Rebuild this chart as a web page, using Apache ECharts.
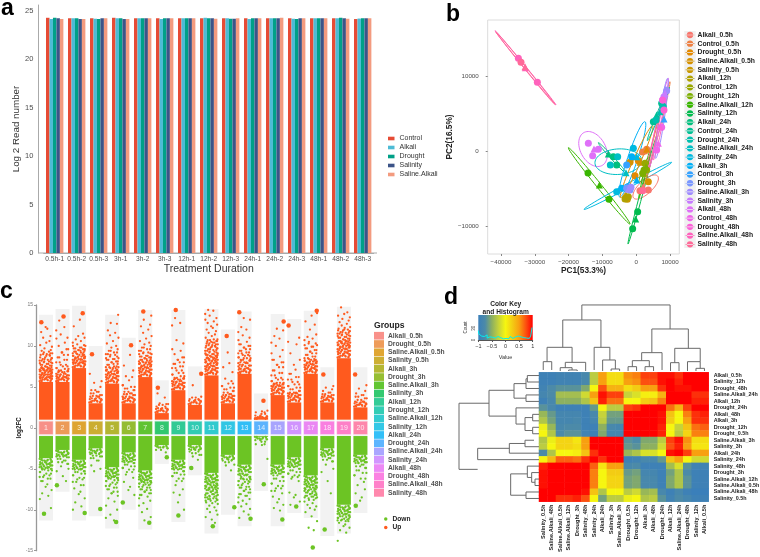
<!DOCTYPE html>
<html><head><meta charset="utf-8">
<style>html,body{margin:0;padding:0;background:#fff}#c{width:760px;height:557px}#c canvas{filter:blur(0.45px)}</style>
<script src="https://cdn.jsdelivr.net/npm/echarts@6/dist/echarts.min.js"></script>
</head><body><div id="c"></div>
<script>
// ---------- panel a ----------
const readSamples=['0.5h-1','0.5h-2','0.5h-3','3h-1','3h-2','3h-3','12h-1','12h-2','12h-3','24h-1','24h-2','24h-3','48h-1','48h-2','48h-3'];
const readControl=[24.3,24.25,24.25,24.3,24.25,24.25,24.25,24.25,24.25,24.25,24.25,24.25,24.25,24.25,24.17];
const readAlkali=[24.17,24.25,24.2,24.25,24.25,24.17,24.25,24.3,24.25,24.17,24.25,24.2,24.25,24.25,24.22];
const readDrought=[24.3,24.25,24.17,24.25,24.25,24.25,24.25,24.25,24.2,24.25,24.25,24.17,24.25,24.3,24.25];
const readSalinity=[24.25,24.17,24.25,24.17,24.25,24.25,24.25,24.25,24.2,24.25,24.25,24.25,24.25,24.25,24.25];
const readSaline=[24.17,24.17,24.25,24.17,24.25,24.25,24.25,24.2,24.25,24.25,24.3,24.25,24.25,24.2,24.25];
const readNames=['Control','Alkali','Drought','Salinity','Saline.Alkali'];
const readColors=['#E64B35','#4DBBD5','#00A087','#3C5488','#F39B7F'];

// ---------- panel b ----------
const pcaNames=['Alkali_0.5h','Control_0.5h','Drought_0.5h','Saline.Alkali_0.5h','Salinity_0.5h','Alkali_12h','Control_12h','Drought_12h','Saline.Alkali_12h','Salinity_12h','Alkali_24h','Control_24h','Drought_24h','Saline.Alkali_24h','Salinity_24h','Alkali_3h','Control_3h','Drought_3h','Saline.Alkali_3h','Salinity_3h','Alkali_48h','Control_48h','Drought_48h','Saline.Alkali_48h','Salinity_48h'];
const pcaColors=['#F8766D','#EE8043','#E38900','#D69100','#C99800','#B0A100','#99A800','#7CAE00','#39B600','#00BB4E','#00BF7D','#00C094','#00BFAE','#00BFC4','#00BAE0','#00B0F6','#35A2FF','#7997FF','#9F8CFF','#C77CFF','#DF70F8','#F066EA','#FB61D7','#FF62BC','#FF6A98'];
// [PC1, PC2, triangle?]
const pcaPoints=[
[[1120,-5220],[3590,-5130],[2110,-4690,1]],
[[1910,-90],[3100,270],[2500,90,1]],
[[-350,-3230],[630,-1240],[3100,270,1]],
[[-1830,-1460],[3590,-4030],[1120,-1460,1]],
[[-3020,-6110],[-2620,-6370],[-2820,-6020,1]],
[[-3310,-6330],[-2330,-6020],[-3020,-5800,1]],
[[2600,-1590],[3100,-2480],[2310,-2920,1]],
[[2310,-2480],[1910,-2920],[2900,-2040,1]],
[[-14260,-2880],[-10900,-4470,1],[-8050,-6370]],
[[430,-8010],[-160,-8980,1],[-1050,-10270]],
[[-8240,-350,1],[-6760,-710],[-5780,-1810]],
[[5070,3940],[6050,4820,1],[7530,6370]],
[[5860,4160],[7040,5270,1],[8030,5930]],
[[-7650,-1810],[-5480,-710],[-3020,-2830,1]],
[[-850,400],[-5780,-5350],[140,-710,1]],
[[-1340,-710],[-4300,-4910],[140,-3810,1]],
[[-2820,-1810],[-2330,-4690],[8220,4290,1]],
[[-2820,-4910],[-1830,-5130],[8810,8230,1]],
[[-2330,-5040,1],[-1540,-4780],[9010,8050]],
[[8220,7260],[7830,6810],[8520,7700,1]],
[[-14160,1060],[-11200,270],[-12880,-580],[-12480,310,1]],
[[7530,3190],[6550,1060,1],[6050,180]],
[[7830,6810],[7040,3270,1],[8220,5490]],
[[-34860,12350],[-32790,11110,1],[-29240,9160]],
[[-34080,11810],[-32890,11240,1],[1910,-5220]]
];
// [centre PC1, centre PC2, semi-axis u (x,y), conjugate semi-axis v (x,y), colour index]
const pcaEllipses=[
[-32750,11085,9020,-4934,227,84,23],
[-32800,11050,8700,-4800,180,120,24],
[-12780,310,2564,-2212,3352,708,20],
[-10955,-4580,9120,-5067,542,195,8],
[-7060,-885,4140,-2035,296,133,10],
[-5285,-1372,6900,265,493,-1681,13],
[-2475,-4580,12966,3120,296,-265,14],
[-1144,-1062,3747,5000,1380,-221,15],
[138,-1372,4733,4779,986,-221,2],
[2800,-4735,3550,1460,1282,-664,0],
[1814,-5133,4240,7168,394,-44,9],
[6055,2300,3944,6947,493,-88,1],
[6547,3628,2958,6062,592,-88,21],
[7040,3275,1972,4425,493,-88,23],
[7533,4381,1775,5310,789,-88,18],
[6547,4956,3254,3540,394,-88,11],
[2307,-2478,1380,1681,493,-88,7],
[2500,-3000,1700,3200,300,-100,8],
[4800,600,2000,3800,350,-100,24]
];

// ---------- panel c ----------
const groupNames=['Alkali_0.5h','Drought_0.5h','Saline.Alkali_0.5h','Salinity_0.5h','Alkali_3h','Drought_3h','Saline.Alkali_3h','Salinity_3h','Alkali_12h','Drought_12h','Saline.Alkali_12h','Salinity_12h','Alkali_24h','Drought_24h','Saline.Alkali_24h','Salinity_24h','Alkali_48h','Drought_48h','Saline.Alkali_48h','Salinity_48h'];
const groupColors=['#F8766D','#EA8331','#D89000','#C09B00','#A3A500','#7CAE00','#39B600','#00BB4E','#00BF7D','#00C1A3','#00BFC4','#00BAE0','#00B0F6','#35A2FF','#9590FF','#C77CFF','#E76BF3','#FA62DB','#FF62BC','#FF6A98'];
const groupIds=['1','2','3','4','5','6','7','8','9','10','11','12','13','14','15','16','17','18','19','20'];
const extentUp=[13.8,14.5,14.9,10,13.8,11,14.4,5.8,14.4,7.5,14.5,12,14.2,4.2,13.9,13.3,14.3,7.4,14.8,7.4];
const extentDown=[-11.3,-7.8,-11.3,-10.8,-12.3,-10,-12.4,-4.4,-11.5,-5.8,-12.9,-10.6,-12,-7.7,-12,-10.4,-11,-13.2,-12.9,-10.4];
const solidUp=[5.6,5.6,7.3,3,5.4,3,6.2,1.8,4.6,2.8,6.4,3,6.6,1.3,4,3.1,6.6,3.1,8.5,2.5];
const solidDown=[-3.7,-2.7,-3.9,-2.5,-4.8,-3,-5.2,-2.1,-3.9,-2.1,-5.5,-3.3,-4.5,-1.1,-4.5,-3.6,-5.8,-2.5,-9.4,-3.3];
const spreadOffsets=[-0.38,0.11,-0.2,0.33,-0.05,0.24,-0.32,0.05,0.38,-0.13,0.18,-0.26,0.29,-0.09,0.36,-0.35,0.02,0.21,-0.17,0.27,-0.29,0.08,-0.02,0.34,-0.23,0.14,-0.37,0.3,-0.11];
const upScatter=[
[5.7,5.8,5.9,6,6,6.1,6.2,6.2,6.3,6.4,6.5,6.5,6.6,6.7,6.8,6.9,7,7,7.1,7.2,7.3,7.4,7.5,7.6,7.7,7.8,7.9,8,8.1,8.2,8.3,8.4,8.5,8.6,8.8,8.9,9,9.1,9.2,9.3,9.4,9.5,9.7,9.9,10.1,10.4,10.6,11,11.2,11.7,12.1,12.3],
[5.7,5.8,5.9,6,6,6.1,6.2,6.3,6.4,6.5,6.6,6.8,6.9,7,7.2,7.3,7.5,7.7,8,8.3,8.6,8.9,9.2,9.6,10,10.4,10.9,11,11.4,11.9,12.3,13.1],
[7.4,7.5,7.6,7.7,7.8,7.9,8,8,8.1,8.2,8.3,8.4,8.5,8.6,8.7,8.8,8.9,9,9.1,9.2,9.3,9.4,9.5,9.6,9.7,9.8,10,10.1,10.2,10.4,10.6,10.8,11,11.2,11.5,12.4,13.2],
[3.1,3.2,3.3,3.4,3.5,3.6,3.8,3.9,4,4.2,4.4,4.6,5,5.5,5.7,6.6],
[5.5,5.6,5.7,5.8,5.9,6,6.1,6.2,6.3,6.4,6.5,6.6,6.7,6.8,6.9,7,7.1,7.3,7.4,7.5,7.7,7.8,8,8.1,8.3,8.4,8.5,8.7,8.9,9,9.2,9.4,9.6,9.8,10,10.3,10.6,11,11.3,11.6,11.9,12.7,12.8,13.8],
[3.1,3.2,3.3,3.4,3.5,3.6,3.7,3.8,4,4.1,4.2,4.4,4.6,4.8,5,5.2,5.8,6.2,6.3,7,7.6,8.9],
[6.3,6.4,6.5,6.6,6.7,6.8,6.9,7,7.1,7.2,7.3,7.4,7.5,7.6,7.7,7.8,7.9,8,8.1,8.2,8.3,8.4,8.5,8.6,8.7,8.8,9,9.1,9.2,9.4,9.6,9.8,10,10.2,10.4,10.6,10.9,11.2,11.6,12,12.4,12.6,13.2,13.7],
[1.9,2,2.1,2.2,2.3,2.4,2.6,2.8,2.9,3,3.7,4.2],
[4.7,4.8,4.9,5,5.1,5.2,5.3,5.4,5.5,5.6,5.7,5.9,6,6.1,6.3,6.5,6.7,7,7.3,7.5,7.8,8,8.3,8.6,9,9.4,9.6,10.3,10.7,12.5,12.8,13.4],
[2.9,3,3.1,3.2,3.3,3.4,3.5,3.7,3.8,5.2],
[6.5,6.6,6.7,6.8,6.9,7,7.1,7.2,7.3,7.4,7.5,7.6,7.7,7.8,7.9,8,8.1,8.2,8.3,8.4,8.5,8.6,8.7,8.8,8.9,9,9.1,9.2,9.3,9.4,9.5,9.6,9.7,9.8,9.9,10,10.1,10.2,10.3,10.4,10.5,10.6,10.7,10.8,11,11.2,11.4,11.6,11.8,12,12.2,12.4,12.6,12.8,13,13.2,13.4,13.7,13.9,14.3,14.4],
[3.1,3.2,3.3,3.4,3.5,3.6,3.7,3.8,3.9,4,4.1,4.3,4.5,4.7,4.9,5.1,5.4,5.7,6,6.8,7.4,7.9,9.2],
[6.7,6.8,6.9,7,7.1,7.2,7.3,7.5,7.6,7.7,7.9,8,8.2,8.3,8.5,8.6,8.8,8.9,9.1,9.2,9.4,9.6,9.8,10,10.2,10.5,10.7,11,11.3,11.7,12,12.3,13.2,13.4],
[1.1,1.2,1.3,1.4,1.5,1.7,1.9,2,2.1],
[4.1,4.2,4.3,4.4,4.5,4.6,4.7,4.8,4.9,5,5.1,5.2,5.3,5.4,5.5,5.7,5.9,6.1,6.4,6.7,7,7.4,7.7,8,8.3,8.7,9.1,9.5,10,10.4,10.9,11.2,11.9,12.1],
[3.2,3.3,3.4,3.5,3.6,3.7,3.8,3.9,4,4.1,4.2,4.3,4.5,4.7,4.9,5.1,5.3,5.6,5.9,6.2,6.6,7.1,7.7,8.3,9.1,10.2,10.5,11],
[6.7,6.8,6.9,7,7.1,7.2,7.3,7.4,7.5,7.6,7.7,7.8,7.9,8,8.1,8.2,8.3,8.4,8.5,8.7,8.9,9.1,9.3,9.5,9.7,9.9,10.1,10.3,10.5,10.7,10.9,11.1,11.4,12,12.6,13,13.7,14],
[3.2,3.3,3.4,3.5,3.6,3.7,3.8,3.9,4,4.1,4.3,4.5,4.7,4.9,5.1],
[8.6,8.7,8.8,8.9,9,9.1,9.2,9.3,9.4,9.5,9.6,9.7,9.8,9.9,10,10.1,10.2,10.3,10.4,10.5,10.6,10.7,10.8,10.9,11,11.1,11.2,11.3,11.4,11.5,11.6,11.7,11.8,11.9,12,12.1,12.2,12.3,12.5,12.7,12.9,13.1,13.3,13.5,13.7,13.9,14.1,14.7],
[2.6,2.7,2.8,2.9,3,3.1,3.2,3.4,3.6,3.8,4,4.2,4.5,4.8,5.2]
];
const downScatter=[
[-3.8,-3.9,-4,-4.1,-4.2,-4.3,-4.4,-4.5,-4.6,-4.7,-4.8,-4.9,-5,-5.1,-5.2,-5.4,-5.6,-5.8,-6,-6.2,-6.5,-6.9,-7.2,-7.6,-8,-8.3,-8.7,-9.8,-10.4],
[-2.8,-2.9,-3,-3.1,-3.2,-3.3,-3.4,-3.5,-3.6,-3.8,-4,-4.2,-4.4,-4.7,-5,-5.3,-5.9,-6.5],
[-4,-4.1,-4.2,-4.3,-4.4,-4.5,-4.6,-4.7,-4.8,-4.9,-5,-5.1,-5.3,-5.4,-5.6,-5.8,-6.1,-6.3,-6.6,-7,-7.4,-7.8,-8.1,-8.6,-9.1,-9.6,-10],
[-2.6,-2.7,-2.8,-2.9,-3,-3.1,-3.2,-3.4,-3.5,-3.7,-4,-4.6,-5,-5.3],
[-4.9,-5,-5.1,-5.2,-5.3,-5.4,-5.5,-5.6,-5.7,-5.8,-5.9,-6,-6.1,-6.2,-6.4,-6.5,-6.7,-6.9,-7.1,-7.3,-7.5,-7.8,-8,-8.3,-8.6,-9,-9.5,-10,-10.6,-11,-11.3],
[-3.1,-3.2,-3.3,-3.4,-3.5,-3.6,-3.7,-3.8,-3.9,-4,-4.1,-4.2,-4.3,-4.5,-4.7,-4.9,-5.1,-5.4,-5.7,-6.1,-6.6,-7.2,-7.6,-8.2],
[-5.3,-5.4,-5.5,-5.6,-5.7,-5.8,-5.9,-6,-6.1,-6.2,-6.3,-6.4,-6.5,-6.6,-6.7,-6.8,-6.9,-7,-7.2,-7.3,-7.5,-7.6,-7.8,-8,-8.2,-8.4,-8.6,-8.9,-9.2,-9.5,-9.9,-10.3,-10.9,-11.3],
[-2.2,-2.3,-2.4,-2.5,-2.7,-3],
[-4,-4.1,-4.2,-4.3,-4.4,-4.5,-4.6,-4.7,-4.8,-4.9,-5,-5.1,-5.3,-5.5,-5.7,-5.9,-6.2,-6.5,-7,-7.5,-7.9,-8.2,-9.1,-10],
[-2.2,-2.3,-2.4,-2.5,-2.6,-2.7,-2.9,-3.1,-3.3,-3.5,-3.9,-4.8],
[-5.6,-5.7,-5.8,-5.9,-6,-6.1,-6.2,-6.3,-6.4,-6.5,-6.6,-6.7,-6.8,-6.9,-7,-7.1,-7.2,-7.3,-7.4,-7.5,-7.6,-7.7,-7.8,-7.9,-8,-8.1,-8.2,-8.3,-8.4,-8.5,-8.6,-8.7,-8.8,-8.9,-9,-9.1,-9.2,-9.3,-9.5,-9.7,-9.9,-10.1,-10.3,-10.6,-10.9,-11.2,-11.6],
[-3.4,-3.5,-3.6,-3.7,-3.8,-3.9,-4,-4.2,-4.5,-4.6,-5.2],
[-4.6,-4.7,-4.8,-4.9,-5,-5.1,-5.2,-5.3,-5.4,-5.6,-5.7,-5.8,-6,-6.2,-6.3,-6.5,-6.6,-6.8,-7,-7.2,-7.3,-7.5,-7.7,-7.9,-8.1,-8.3,-8.5,-8.7,-8.9,-9.1,-9.3,-9.6,-9.9,-10.2,-10.6,-11],
[-1.1,-1.2,-1.3,-1.4,-1.5,-1.7,-2,-2.1,-3.8],
[-4.6,-4.7,-4.8,-4.9,-5,-5.1,-5.2,-5.3,-5.4,-5.5,-5.6,-5.8,-6,-6.2,-6.5,-6.8,-7.1,-7.4,-7.7,-8,-8.4,-8.7,-9.1,-9.4,-9.8,-10.1],
[-3.7,-3.8,-3.9,-4,-4.1,-4.2,-4.3,-4.4,-4.5,-4.6,-4.7,-4.8,-5,-5.2,-5.4,-5.6,-5.8,-6,-6.2,-6.5,-7.9,-8.2,-8.5,-9,-9.4],
[-5.9,-6,-6.1,-6.2,-6.3,-6.4,-6.5,-6.6,-6.7,-6.8,-6.9,-7,-7.1,-7.2,-7.3,-7.4,-7.5,-7.6,-7.7,-7.8,-7.9,-8,-8.1,-8.2,-8.3,-8.4,-8.5,-8.6,-8.8,-9,-9.2,-9.4,-9.6,-9.8,-10,-10.3,-10.8,-11.4,-12.2,-12.5],
[-2.6,-2.7,-2.8,-2.9,-3,-3.1,-3.2,-3.3,-3.4,-3.5,-3.7,-3.9,-4.1,-4.5,-5,-5.4,-6.5,-8],
[-9.5,-9.6,-9.7,-9.8,-9.9,-10,-10.1,-10.2,-10.3,-10.4,-10.5,-10.6,-10.7,-10.8,-10.9,-11,-11.1,-11.2,-11.3,-11.4,-11.6,-11.8,-12,-12.2,-12.5,-12.8,-13.8],
[-3.4,-3.5,-3.6,-3.7,-3.8,-3.9,-4,-4.1,-4.2,-4.3,-4.5,-4.7,-4.9,-5.2,-5.5,-5.8,-6.2,-6.6,-7,-7.5,-8,-8.5,-8.9]
];
// extreme genes: [column, offset within column, log2FC]
const bigUp=[[1,-0.28,12.9],[2,0.06,13.6],[3,0.22,14],[4,-0.22,9],[6,0.14,10.1],[7,-0.12,14.2],[8,-0.24,4.9],[9,-0.16,14.4],[10,0.38,6.6],[12,-0.08,11.2],[13,-0.32,14.1],[14,0.14,3.3],[15,0.36,13],[16,-0.34,12.5],[17,0.36,14.3],[18,-0.24,6.5],[20,-0.32,6.5]];
const bigDown=[[1,-0.12,-10.5],[2,-0.34,-7],[3,0.34,-10.4],[4,0.28,-9.9],[5,0.24,-11.5],[6,-0.36,-9.1],[7,0.24,-11.6],[8,0.3,-3.6],[9,0,-10.7],[10,-0.22,-4.9],[11,0.08,-12],[12,0.38,-9.7],[13,0.36,-11.1],[14,0.16,-6.9],[15,0.28,-11.2],[16,0.12,-9.6],[17,0.12,-14.6],[18,-0.16,-12.4],[20,-0.28,-9.5]];

// ---------- panel d ----------
const heatRows=['Alkali_0.5h','Salinity_12h','Drought_48h','Saline.Alkali_24h','Alkali_12h','Drought_24h','Alkali_48h','Alkali_3h','Drought_12h','Drought_0.5h','Saline.Alkali_3h','Salinity_3h','Alkali_24h','Salinity_24h','Salinity_48h','Drought_3h','Saline.Alkali_12h','Saline.Alkali_0.5h','Saline.Alkali_48h','Salinity_0.5h'];
const heatCols=['Salinity_0.5h','Saline.Alkali_48h','Saline.Alkali_0.5h','Saline.Alkali_12h','Drought_3h','Salinity_48h','Salinity_24h','Alkali_24h','Salinity_3h','Saline.Alkali_3h','Drought_0.5h','Drought_12h','Alkali_3h','Alkali_48h','Drought_24h','Alkali_12h','Saline.Alkali_24h','Drought_48h','Salinity_12h','Alkali_0.5h'];
const heatValues=[
[-0.95,-0.95,-0.9,-0.9,-0.9,-0.8,-0.3,0.5,0.15,0.15,0.55,0.6,0.8,0.8,0.95,0.95,0.85,1,1,1],
[-0.95,-0.95,-0.9,-0.9,-0.9,-0.8,-0.3,0.5,0.15,0.15,0.5,0.55,0.75,0.75,0.95,1,0.9,1,1,1],
[-0.9,-0.75,-0.7,-0.7,-0.7,-0.55,0,0.75,0.4,0.4,0.15,0.25,0.5,0.5,0.85,1,0.95,0.95,1,1],
[-0.85,-0.75,-0.4,-0.4,-0.4,-0.2,0.5,0.95,0.8,0.8,-0.25,-0.15,0.05,0.05,0.4,1,1,1,0.85,0.85],
[-0.95,-0.8,-0.5,-0.5,-0.5,-0.35,0.3,0.9,0.65,0.65,0,0,0.25,0.3,0.6,1,1,1,0.9,0.9],
[-0.7,-0.8,-0.95,-0.95,-0.95,-0.95,-0.65,0,-0.3,-0.3,0.8,0.85,1,1,1,0.65,0.4,0.8,1,1],
[-0.45,-0.65,-0.85,-0.85,-0.85,-0.95,-0.8,-0.25,-0.6,-0.6,1,1,1,1,0.95,0.3,0,0.6,0.85,0.9],
[-0.35,-0.6,-0.85,-0.85,-0.8,-0.95,-0.85,-0.3,-0.65,-0.65,1,1,1,1,0.95,0.25,0,0.5,0.85,0.85],
[-0.05,-0.45,-0.8,-0.75,-0.75,-0.95,-0.95,-0.5,-0.8,-0.85,1,1,1,1,0.9,0,-0.25,0.3,0.65,0.7],
[0,-0.35,-0.75,-0.7,-0.7,-0.9,-0.95,-0.55,-0.85,-0.85,1,1,1,1,0.9,0,-0.3,0.2,0.6,0.6],
[-0.35,-0.05,0.2,0.2,0.1,0.5,1,1,1,1,-0.7,-0.75,-0.55,-0.55,-0.3,0.8,0.95,0.55,0.15,0.15],
[-0.3,0,0.2,0.2,0.15,0.5,1,1,1,1,-0.65,-0.7,-0.5,-0.5,-0.2,0.75,0.9,0.5,0.1,0.1],
[-0.75,-0.35,0,0,0.05,0.3,0.85,1,1,1,-0.45,-0.35,-0.15,-0.15,0,0.95,1,0.8,0.5,0.5],
[0,0.35,0.7,0.7,0.65,0.85,1,0.85,1,1,-0.95,-0.9,-0.8,-0.8,-0.65,0.3,0.5,0,-0.2,-0.2],
[0.9,1,1,1,1,1,0.7,0.1,0.5,0.5,-0.8,-0.75,-0.95,-0.95,-0.95,-0.4,-0.15,-0.7,-0.9,-0.9],
[0.95,1,1,1,1,1,0.6,0,0.25,0.25,-0.65,-0.6,-0.85,-0.85,-0.95,-0.6,-0.35,-0.75,-0.95,-0.95],
[0.95,1,1,1,1,1,0.6,0,0.2,0.2,-0.6,-0.55,-0.8,-0.8,-0.95,-0.55,-0.35,-0.7,-0.95,-0.95],
[0.95,1,1,1,1,1,0.6,0,0.2,0.2,-0.6,-0.55,-0.8,-0.8,-0.95,-0.55,-0.35,-0.7,-0.95,-0.95],
[1,1,1,1,1,0.95,0.3,-0.35,0,0,-0.3,-0.2,-0.45,-0.4,-0.8,-0.95,-0.8,-0.95,-1,-1],
[1,1,0.85,0.85,0.9,0.75,0,-0.6,-0.3,-0.3,-0.05,0,-0.35,-0.3,-0.7,-0.9,-0.75,-0.85,-0.95,-0.95]
];
const heatStops=['#3A7FBA','#4C8AA8','#8DB060','#C6D33A','#F6F610','#F3CC14','#F8A010','#FC5010','#FF0000'];
// merges: [pos A, pos B, height, height of child A, height of child B]
const topTree=[[5.05,15.45,198,153,126],[2.8,7.3,153,71,71],[0.95,3.9,71,28,26],[0.5,1.5,28,3,3],[3.1,5.5,26,10,0],[2.5,3.9,10,0,3],[3.5,4.5,3,0,0],[6.5,8.35,71,3,33],[7.5,9,33,0,6],[8.5,9.5,6,0,0],[13.3,17.6,126,55,68],[12.1,14.5,55,31,3],[11,13,31,13,13],[10.5,11.5,13,0,0],[12.5,13.5,13,0,0],[16,19,68,25,28],[15.5,16.5,25,0,0],[17.5,19,28,0,8],[18.5,19.5,8,0,0]];
const leftTree=[[4.78,15,240,150,184],[2.78,6.77,150,75,69],[1.75,4,75,39,39],[1,2.5,39,35,0],[0.5,1.5,35,0,0],[3.5,4.5,39,0,0],[5.5,8,69,0,42],[7,9,42,19,19],[6.5,7.5,19,0,0],[8.5,9.5,19,0,0],[11.75,13.5,184,89,0],[11,12.5,89,42,0],[10.5,11.5,42,15,0],[15.7,19,85,35,39],[14.5,16.25,35,0,22],[15.5,17,22,0,12],[16.5,17.5,12,0,0],[18.5,19.5,39,0,0]];
const histCounts=[24,15,10,6,9,4,13,5,8,4,7,3,5,6,9,4,6,5,3,7,4,5,3,6,9,4,5,8,4,10,5,8,4,6,3,5,7,4,6,10,32];

// ---------- helpers ----------
const FONT='Liberation Sans';
const gray='#4d4d4d';
function drawEllipse(params,api){
  const cx=api.value(0),cy=api.value(1),ux=api.value(2),uy=api.value(3),vx=api.value(4),vy=api.value(5);
  const pts=[];
  for(let k=0;k<=60;k++){const t=k/60*Math.PI*2;pts.push(api.coord([cx+Math.cos(t)*ux+Math.sin(t)*vx,cy+Math.cos(t)*uy+Math.sin(t)*vy]));}
  return {type:'polyline',shape:{points:pts},style:{stroke:pcaColors[api.value(6)],fill:'none',lineWidth:1}};
}
function drawTreeTop(params,api){
  const a=api.value(0),b=api.value(1),h=api.value(2);
  return {type:'polyline',shape:{points:[api.coord([a,api.value(3)]),api.coord([a,h]),api.coord([b,h]),api.coord([b,api.value(4)])]},style:{stroke:'#6a6a6a',fill:'none',lineWidth:1}};
}
function drawTreeLeft(params,api){
  const a=api.value(0),b=api.value(1),h=api.value(2);
  return {type:'polyline',shape:{points:[api.coord([api.value(3),a]),api.coord([h,a]),api.coord([h,b]),api.coord([api.value(4),b])]},style:{stroke:'#6a6a6a',fill:'none',lineWidth:1}};
}
function drawKey(params,api){
  const p0=api.coord([-1,64]),p1=api.coord([1,0]);
  const cs=heatStops.map((c,i)=>({offset:i/(heatStops.length-1),color:c}));
  return {type:'rect',shape:{x:p0[0],y:p0[1],width:p1[0]-p0[0],height:p1[1]-p0[1]},style:{fill:new echarts.graphic.LinearGradient(0,0,1,0,cs)}};
}
// each reading in the crowded lower part of a column stands for several overlapping genes
function spreadColumn(col,i,out){
  const n=spreadOffsets.length;
  col.forEach((v,k)=>{
    out.push([i+1+spreadOffsets[k%n],v,0]);
    if(k<col.length*0.72) out.push([i+1+spreadOffsets[(k+11)%n],v,0]);
    if(k<col.length*0.42) out.push([i+1+spreadOffsets[(k+19)%n],v,0]);
  });
}
const upData=[],downData=[];
upScatter.forEach((col,i)=>spreadColumn(col,i,upData));
downScatter.forEach((col,i)=>spreadColumn(col,i,downData));
bigUp.forEach(d=>upData.push([d[0]+d[1],d[2],1]));
bigDown.forEach(d=>downData.push([d[0]+d[1],d[2],1]));
const heatData=[];
heatValues.forEach((row,r)=>row.forEach((v,c)=>heatData.push([c,r,v])));

const series=[];
// panel a
[readControl,readAlkali,readDrought,readSalinity,readSaline].forEach((d,i)=>series.push({
  type:'bar',name:readNames[i],data:d,xAxisIndex:0,yAxisIndex:0,barWidth:3.47,barGap:'0%',itemStyle:{color:readColors[i]}}));
// panel b
series.push({type:'custom',name:'ellipses',xAxisIndex:1,yAxisIndex:1,renderItem:drawEllipse,data:pcaEllipses,clip:true,z:2,silent:true});
pcaPoints.forEach((d,i)=>series.push({
  type:'scatter',name:pcaNames[i],xAxisIndex:1,yAxisIndex:1,data:d,symbolSize:7,z:3,
  symbol:v=>v[2]?'triangle':'circle',itemStyle:{color:pcaColors[i],opacity:1}}));
// panel c
const barC={type:'bar',xAxisIndex:3,yAxisIndex:2,barWidth:14,barGap:'-100%',silent:true};
series.push({...barC,name:'rangeUp',stack:'ext',data:extentUp,itemStyle:{color:'#f2f2f2'}});
series.push({...barC,name:'rangeDown',stack:'ext',data:extentDown,itemStyle:{color:'#f2f2f2'}});
series.push({...barC,name:'baseUp',stack:'sol',data:solidUp.map(()=>1),itemStyle:{color:'transparent'}});
series.push({...barC,name:'solidUp',stack:'sol',data:solidUp.map(v=>v-1),itemStyle:{color:'#FF5A1E'}});
series.push({...barC,name:'baseDown',stack:'sol',data:solidDown.map(()=>-1),itemStyle:{color:'transparent'}});
series.push({...barC,name:'solidDown',stack:'sol',data:solidDown.map(v=>v+1),itemStyle:{color:'#6CC424'}});
series.push({type:'scatter',name:'Down',xAxisIndex:2,yAxisIndex:2,data:downData,symbolSize:v=>v[2]?4.5:2.3,itemStyle:{color:'#6CC424',opacity:1},z:3});
series.push({type:'scatter',name:'Up',xAxisIndex:2,yAxisIndex:2,data:upData,symbolSize:v=>v[2]?4.5:2.3,itemStyle:{color:'#FF5A1E',opacity:1},z:3});
series.push({type:'scatter',name:'ids',xAxisIndex:2,yAxisIndex:2,z:4,symbol:'rect',symbolSize:[14.4,13.4],
  data:groupIds.map((s,i)=>({value:[i+1,0],name:s,itemStyle:{color:groupColors[i],borderColor:'rgba(255,255,255,0.5)',borderWidth:1}})),
  label:{show:true,position:'inside',formatter:'{b}',color:'#fff',fontSize:7,fontFamily:FONT}});
series.push({type:'scatter',name:'groupKey',xAxisIndex:4,yAxisIndex:3,symbol:'rect',symbolSize:[10,7.7],
  data:groupNames.map((s,i)=>({value:[0.5,i],name:s,itemStyle:{color:groupColors[i]}})),
  label:{show:true,position:'right',distance:4,formatter:'{b}',color:'#222',fontSize:6.7,fontWeight:'bold',fontFamily:FONT}});
// panel d
const heatIndex=series.length;
series.push({type:'heatmap',name:'corr',xAxisIndex:5,yAxisIndex:4,data:heatData,itemStyle:{borderWidth:0}});
series.push({type:'custom',name:'treeTop',xAxisIndex:6,yAxisIndex:5,renderItem:drawTreeTop,data:topTree,clip:false,silent:true});
series.push({type:'custom',name:'treeLeft',xAxisIndex:7,yAxisIndex:6,renderItem:drawTreeLeft,data:leftTree,clip:false,silent:true});
series.push({type:'custom',name:'keyRamp',xAxisIndex:8,yAxisIndex:7,renderItem:drawKey,data:[[0,0]],clip:false,silent:true,z:1});
series.push({type:'line',name:'hist',xAxisIndex:8,yAxisIndex:7,data:histCounts.map((c,i)=>[-1+i*0.05,c]),step:'middle',symbol:'none',lineStyle:{color:'#00F0F0',width:1},z:2,silent:true});

const gridBoxes=[
    {left:43.7,top:5,width:330,height:248},
    {left:487.7,top:20,width:191.6,height:234,show:true,borderColor:'#dcdcdc',borderWidth:1,backgroundColor:'#fff'},
    {left:37.7,top:305,width:331,height:245.7},
    {left:374,top:331.6,width:10,height:165.4},
    {left:539,top:372.3,width:169.7,height:129.4},
    {left:539,top:304.3,width:169.7,height:66.7},
    {left:459,top:372.3,width:80,height:129.4},
    {left:478.3,top:315,width:54.4,height:25}
];
const option={
  animation:false,backgroundColor:'#fff',textStyle:{fontFamily:FONT},
  grid:gridBoxes.map(g=>({...g,outerBoundsMode:'none',containLabel:false})),
  xAxis:[
    {gridIndex:0,type:'category',data:readSamples,axisTick:{show:false},axisLine:{lineStyle:{color:'#aaa'}},
     axisLabel:{fontSize:6.6,color:gray,margin:3,interval:0},name:'Treatment Duration',nameLocation:'middle',nameGap:10,nameTextStyle:{fontSize:10.5,color:'#333'}},
    {gridIndex:1,type:'value',min:-43935,max:12750,axisLine:{show:false,onZero:false},splitLine:{show:false},
     axisTick:{show:true,customValues:[-40000,-30000,-20000,-10000,0,10000],length:2,lineStyle:{color:'#888'}},
     axisLabel:{customValues:[-40000,-30000,-20000,-10000,0,10000],fontSize:6.2,color:gray,margin:5,formatter:v=>String(v).replace('-','\u2212')},
     name:'PC1(53.3%)',nameLocation:'middle',nameGap:12.5,nameTextStyle:{fontSize:8.3,fontWeight:'bold',color:'#222'}},
    {gridIndex:2,type:'value',min:0.5,max:20.5,show:false},
    {gridIndex:2,type:'category',data:groupIds,show:false},
    {gridIndex:3,type:'value',min:0,max:1,show:false},
    {gridIndex:4,type:'category',data:heatCols,axisLine:{show:false},axisTick:{show:false},
     axisLabel:{rotate:90,interval:0,fontSize:5.6,fontWeight:'bold',color:'#222',margin:3}},
    {gridIndex:5,type:'value',min:0,max:20,show:false},
    {gridIndex:6,type:'value',min:0,max:240,inverse:true,show:false},
    {gridIndex:7,type:'value',min:-1,max:1,interval:0.5,splitLine:{show:false},axisLine:{show:true,lineStyle:{color:'#555'}},
     axisTick:{show:true,length:2,lineStyle:{color:'#555'}},axisLabel:{fontSize:5.5,color:'#333',margin:3,formatter:v=>String(v).replace('-','\u2212')},
     name:'Value',nameLocation:'middle',nameGap:14,nameTextStyle:{fontSize:5.5,color:'#333'}}
  ],
  yAxis:[
    {gridIndex:0,type:'value',min:0,max:25.62,interval:5,offset:5.4,splitLine:{show:false},axisTick:{show:false},
     axisLine:{show:true,lineStyle:{color:'#aaa'}},axisLabel:{fontSize:7.5,color:gray,margin:5,showMaxLabel:false},
     name:'Log 2 Read number',nameLocation:'middle',nameGap:7.5,nameTextStyle:{fontSize:9.8,color:'#333'}},
    {gridIndex:1,type:'value',min:-13623,max:17432,axisLine:{show:false,onZero:false},splitLine:{show:false},
     axisTick:{show:true,customValues:[-10000,0,10000],length:2,lineStyle:{color:'#888'}},
     axisLabel:{customValues:[-10000,0,10000],fontSize:6.2,color:gray,margin:9,formatter:v=>String(v).replace('-','\u2212')},
     name:'PC2(16.5%)',nameLocation:'middle',nameGap:26,nameTextStyle:{fontSize:8.3,fontWeight:'bold',color:'#222'}},
    {gridIndex:2,type:'value',min:-15,max:15,interval:5,offset:1.7,splitLine:{show:false},
     axisLine:{show:true,lineStyle:{color:'#999',width:1.3}},axisTick:{show:true,length:2,lineStyle:{color:'#999'}},
     axisLabel:{fontSize:5,color:'#777',margin:3},
     name:'log2FC',nameLocation:'middle',nameGap:14,nameTextStyle:{fontSize:6.3,fontWeight:'bold',color:'#222'}},
    {gridIndex:3,type:'category',data:groupNames,inverse:true,show:false},
    {gridIndex:4,type:'category',data:heatRows,inverse:true,position:'right',axisLine:{show:false},axisTick:{show:false},
     axisLabel:{interval:0,fontSize:5.4,fontWeight:'bold',color:'#222',margin:5}},
    {gridIndex:5,type:'value',min:0,max:200,show:false},
    {gridIndex:6,type:'value',min:0,max:20,inverse:true,show:false},
    {gridIndex:7,type:'value',min:0,max:64,splitLine:{show:false},axisLine:{show:true,lineStyle:{color:'#555'}},
     axisTick:{show:true,customValues:[0,30],length:2,lineStyle:{color:'#555'}},
     axisLabel:{customValues:[0,30],fontSize:4.5,color:'#333',margin:2,rotate:90},
     name:'Count',nameLocation:'middle',nameGap:10,nameTextStyle:{fontSize:4.5,color:'#333'}}
  ],
  visualMap:{show:false,seriesIndex:heatIndex,min:-1,max:1,dimension:2,inRange:{color:heatStops}},
  legend:[
    {data:readNames,orient:'vertical',left:388,top:135,padding:0,itemWidth:6.5,itemHeight:3.6,itemGap:2,icon:'rect',selectedMode:false,
     textStyle:{fontSize:7,color:'#333'}},
    {data:pcaNames,orient:'vertical',left:685.5,top:31.5,padding:0,itemWidth:9,itemHeight:7,itemGap:1.72,selectedMode:false,
     icon:'path://M0,3.6h10v0.8h-10z M5,0.5a3.5,3.5 0 1,0 0.01,0z',textStyle:{fontSize:6.8,fontWeight:'bold',color:'#222',padding:[0,0,0,-2]}},
    {data:['Down','Up'],orient:'vertical',left:384,top:515.5,padding:0,itemWidth:3.5,itemHeight:3.5,itemGap:1.5,icon:'circle',selectedMode:false,
     textStyle:{fontSize:6.6,fontWeight:'bold',color:'#222'}}
  ],
  graphic:[
    {type:'rect',shape:{x:684.3,y:31,width:11.4,height:217},style:{fill:'#f0f0f0'},z:-1},
    {type:'line',shape:{x1:38.3,y1:253,x2:377,y2:253},style:{stroke:'#aaa',lineWidth:1}},
    {type:'text',x:1,y:-3,style:{text:'a',font:'bold 23px "Liberation Sans"',fill:'#000'}},
    {type:'text',x:446,y:3,style:{text:'b',font:'bold 23px "Liberation Sans"',fill:'#000'}},
    {type:'text',x:0,y:280,style:{text:'c',font:'bold 23px "Liberation Sans"',fill:'#000'}},
    {type:'text',x:444,y:286,style:{text:'d',font:'bold 23px "Liberation Sans"',fill:'#000'}},
    {type:'text',x:374,y:321,style:{text:'Groups',font:'bold 8.6px "Liberation Sans"',fill:'#222'}},
    {type:'text',x:505.7,y:300.5,style:{text:'Color Key',font:'bold 6.6px "Liberation Sans"',fill:'#222',textAlign:'center'}},
    {type:'text',x:505.7,y:308.5,style:{text:'and Histogram',font:'bold 6.6px "Liberation Sans"',fill:'#222',textAlign:'center'},z:5}
  ],
  series
};
const chart=echarts.init(document.getElementById('c'));
chart.setOption(option);
</script></body></html>
